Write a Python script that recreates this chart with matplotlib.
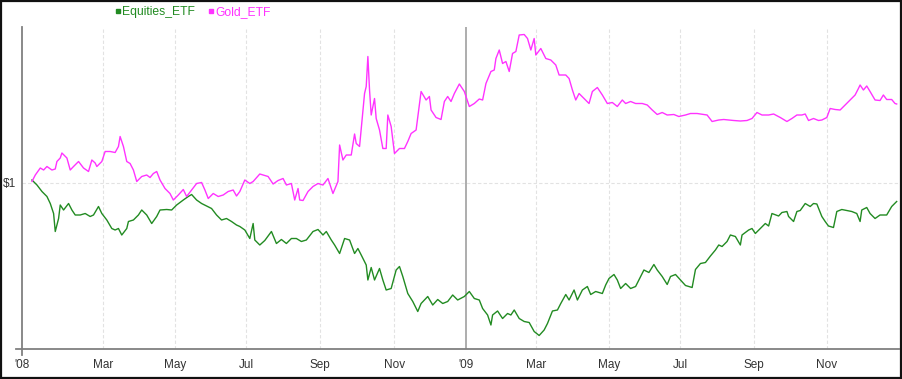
import matplotlib
matplotlib.use('Agg')
import matplotlib.pyplot as plt
import numpy as np
from matplotlib.lines import Line2D

plt.rcParams['font.family'] = ['Liberation Sans', 'DejaVu Sans']

# trading sessions since 2008-01-02 and value of $1 invested
eq_day = [0, 3, 6, 9, 11, 13, 14, 16, 17, 19, 22, 24, 26, 29, 32, 35, 37, 40, 42, 45,
          48, 50, 52, 54, 57, 58, 61, 64, 66, 69, 72, 75, 77, 81, 84, 87, 91, 94, 96, 99,
          102, 105, 108, 111, 114, 117, 120, 123, 125, 128, 131, 133, 134, 137, 140, 144,
          147, 150, 153, 156, 159, 162, 165, 169, 172, 175, 177, 180, 182, 185, 188, 191,
          194, 196, 198, 201, 202, 204, 206, 209, 211, 213, 216, 219, 221, 223, 226, 229,
          232, 234, 238, 241, 244, 247, 250, 253, 256, 260, 263, 266, 269, 271, 274, 276,
          277, 280, 283, 286, 288, 290, 293, 296, 299, 302, 305, 308, 310, 313, 316, 318,
          321, 323, 326, 328, 331, 334, 336, 339, 343, 345, 347, 350, 352, 354, 357, 360,
          363, 366, 368, 371, 374, 376, 379, 382, 384, 387, 390, 393, 397, 399, 402, 405,
          408, 411, 413, 415, 418, 420, 423, 426, 427, 431, 433, 435, 438, 441, 443, 445,
          449, 451, 454, 455, 458, 460, 462, 465, 468, 470, 472, 475, 477, 479, 482, 484,
          487, 490, 493, 496, 498, 499, 502, 504, 507, 510, 514, 517, 520]
eq_val = [1.006, 0.996, 0.983, 0.973, 0.959, 0.939, 0.903, 0.929, 0.956, 0.946, 0.959,
          0.946, 0.936, 0.936, 0.939, 0.933, 0.936, 0.953, 0.939, 0.926, 0.909, 0.906,
          0.909, 0.896, 0.909, 0.923, 0.926, 0.936, 0.946, 0.936, 0.919, 0.933, 0.946,
          0.947, 0.946, 0.956, 0.966, 0.973, 0.977, 0.966, 0.959, 0.954, 0.949, 0.936,
          0.926, 0.929, 0.923, 0.916, 0.913, 0.906, 0.889, 0.919, 0.886, 0.876, 0.885,
          0.903, 0.879, 0.887, 0.879, 0.889, 0.889, 0.883, 0.886, 0.903, 0.907, 0.896,
          0.903, 0.886, 0.876, 0.859, 0.889, 0.886, 0.859, 0.869, 0.856, 0.836, 0.806,
          0.831, 0.806, 0.829, 0.806, 0.786, 0.789, 0.826, 0.833, 0.813, 0.779, 0.763,
          0.743, 0.759, 0.773, 0.756, 0.767, 0.759, 0.763, 0.776, 0.766, 0.773, 0.783,
          0.769, 0.766, 0.749, 0.736, 0.716, 0.736, 0.744, 0.729, 0.739, 0.736, 0.746,
          0.729, 0.723, 0.721, 0.703, 0.695, 0.706, 0.719, 0.744, 0.746, 0.759, 0.777,
          0.766, 0.786, 0.766, 0.786, 0.793, 0.777, 0.783, 0.779, 0.796, 0.809, 0.817,
          0.806, 0.789, 0.799, 0.789, 0.793, 0.813, 0.826, 0.821, 0.837, 0.826, 0.813,
          0.797, 0.813, 0.817, 0.806, 0.795, 0.791, 0.827, 0.839, 0.841, 0.854, 0.866,
          0.876, 0.873, 0.883, 0.896, 0.893, 0.876, 0.896, 0.906, 0.909, 0.899, 0.909,
          0.919, 0.914, 0.939, 0.934, 0.941, 0.943, 0.933, 0.923, 0.943, 0.945, 0.959,
          0.953, 0.959, 0.958, 0.933, 0.923, 0.914, 0.911, 0.943, 0.947, 0.945, 0.943,
          0.939, 0.923, 0.946, 0.951, 0.939, 0.929, 0.936, 0.936, 0.953, 0.963]

gold_day = [0, 2, 5, 7, 9, 12, 14, 15, 17, 18, 21, 23, 25, 28, 31, 34, 36, 38, 39, 42,
            44, 47, 50, 52, 53, 55, 57, 59, 61, 63, 66, 69, 71, 73, 75, 77, 80, 83, 85, 88,
            91, 93, 96, 99, 102, 104, 106, 109, 112, 115, 118, 121, 123, 125, 128, 131, 133,
            137, 142, 145, 148, 151, 153, 156, 158, 160, 161, 163, 166, 169, 172, 175, 178,
            181, 184, 185, 187, 189, 192, 194, 195, 197, 200, 201, 202, 203, 204, 206, 207,
            209, 211, 213, 214, 216, 218, 221, 224, 226, 228, 231, 234, 237, 239, 240, 243,
            246, 248, 250, 252, 254, 257, 260, 263, 266, 269, 271, 273, 276, 278, 279, 281,
            283, 285, 287, 289, 291, 293, 296, 298, 300, 302, 303, 306, 309, 312, 315, 317,
            321, 323, 325, 327, 329, 332, 335, 337, 340, 343, 346, 349, 352, 355, 357, 360,
            363, 367, 370, 373, 376, 379, 382, 386, 389, 393, 396, 400, 406, 409, 413, 416,
            419, 422, 426, 430, 433, 436, 439, 443, 446, 450, 454, 457, 460, 463, 465, 467,
            470, 473, 475, 478, 480, 483, 486, 489, 492, 495, 497, 498, 500, 502, 504, 507,
            510, 512, 514, 517, 519, 520]
gold_val = [1.003, 1.016, 1.030, 1.026, 1.033, 1.026, 1.028, 1.043, 1.050, 1.060, 1.050,
            1.026, 1.033, 1.043, 1.030, 1.023, 1.046, 1.040, 1.033, 1.043, 1.063, 1.063,
            1.061, 1.073, 1.093, 1.073, 1.043, 1.039, 1.026, 1.003, 1.013, 1.016, 1.011,
            1.019, 1.023, 1.006, 0.989, 0.979, 0.966, 0.976, 0.987, 0.973, 0.986, 0.999,
            1.001, 0.986, 0.969, 0.979, 0.973, 0.976, 0.983, 0.986, 0.974, 0.983, 1.006,
            0.999, 1.003, 1.018, 1.013, 0.998, 1.005, 1.009, 0.996, 0.999, 0.966, 0.989,
            0.966, 0.965, 0.983, 0.993, 0.999, 0.996, 1.009, 0.979, 1.003, 1.076, 1.046,
            1.056, 1.056, 1.098, 1.079, 1.073, 1.179, 1.193, 1.253, 1.186, 1.136, 1.169,
            1.129, 1.106, 1.069, 1.069, 1.136, 1.113, 1.059, 1.069, 1.069, 1.083, 1.099,
            1.106, 1.183, 1.166, 1.173, 1.146, 1.131, 1.127, 1.163, 1.173, 1.163, 1.179,
            1.198, 1.183, 1.153, 1.159, 1.168, 1.166, 1.199, 1.223, 1.226, 1.249, 1.266,
            1.239, 1.243, 1.223, 1.259, 1.263, 1.296, 1.297, 1.289, 1.266, 1.289, 1.256,
            1.269, 1.249, 1.246, 1.236, 1.216, 1.216, 1.209, 1.186, 1.166, 1.179, 1.169,
            1.159, 1.183, 1.191, 1.176, 1.159, 1.161, 1.153, 1.166, 1.159, 1.163, 1.159,
            1.159, 1.156, 1.146, 1.137, 1.141, 1.136, 1.137, 1.133, 1.136, 1.139, 1.139,
            1.136, 1.123, 1.126, 1.127, 1.126, 1.125, 1.124, 1.125, 1.129, 1.141, 1.136,
            1.136, 1.138, 1.131, 1.123, 1.129, 1.136, 1.136, 1.138, 1.125, 1.129, 1.125,
            1.126, 1.131, 1.149, 1.147, 1.146, 1.156, 1.166, 1.176, 1.189, 1.196, 1.186,
            1.194, 1.183, 1.166, 1.165, 1.176, 1.167, 1.167, 1.159, 1.158]

month_starts = ['2008-03-01', '2008-05-01', '2008-07-01', '2008-09-01', '2008-11-01',
                '2009-01-01', '2009-03-01', '2009-05-01', '2009-07-01', '2009-09-01',
                '2009-11-01']
month_labels = ['Mar', 'May', 'Jul', 'Sep', 'Nov', "'09", 'Mar', 'May', 'Jul', 'Sep', 'Nov']

GREEN = '#228b22'
MAGENTA = '#ff33ff'
TXT = '#333333'


def main():
    fig = plt.figure(figsize=(9.03, 3.79), dpi=100)
    ax = fig.add_axes([22 / 903, 1 - 349 / 379, 877 / 903, 322 / 379])

    xs = np.busday_count('2008-01-02', month_starts)
    x0, x1 = -6, 521.4

    for x, lab in zip(xs, month_labels):
        if lab == "'09":
            ax.axvline(x, color='#a0a0a0', lw=1.2, zorder=1)
        else:
            ax.axvline(x, color='#e2e2e2', lw=0.8, ls=(0, (3, 2)), zorder=0)
    ax.axhline(1.0, color='#e2e2e2', lw=0.8, ls=(0, (3, 2)), zorder=0)

    ax.plot(eq_day, eq_val, color=GREEN, lw=1.0, zorder=3)
    ax.plot(gold_day, gold_val, color=MAGENTA, lw=1.0, zorder=3)

    ax.set_xlim(x0, x1)
    ax.set_ylim(0.668, 1.312)
    ax.set_xticks([x0] + list(xs))
    ax.set_xticklabels(["'08"] + month_labels)
    ax.set_yticks([1.0])
    ax.set_yticklabels(['\\$1'])
    ax.tick_params(axis='both', length=0, labelsize=8.5, labelcolor=TXT)
    ax.tick_params(axis='x', pad=7)
    ax.tick_params(axis='y', pad=4)

    for s in ax.spines.values():
        s.set_visible(False)
    # axis lines, a little past the corner as in the original
    ax.add_line(Line2D([-0.007, 1.0], [0, 0], transform=ax.transAxes,
                       color='#808080', lw=1.3, clip_on=False))
    ax.add_line(Line2D([0, 0], [-0.02, 1.0], transform=ax.transAxes,
                       color='#808080', lw=1.3, clip_on=False))

    handles = [Line2D([], [], marker='s', ls='none', color=GREEN, markersize=3.5),
               Line2D([], [], marker='s', ls='none', color=MAGENTA, markersize=3.5)]
    fig.legend(handles, ['Equities_ETF', 'Gold_ETF'], loc='center',
               bbox_to_anchor=(193 / 903, 1 - 12 / 379), ncol=2, frameon=False,
               fontsize=8.7, labelcolor=[GREEN, MAGENTA], handlelength=0.5,
               handletextpad=0.1, columnspacing=1.1, borderpad=0)

    # dark frame round the picture
    fig.add_artist(plt.Rectangle((0.001, 0.002), 0.997, 0.996, transform=fig.transFigure,
                                 fill=False, edgecolor='#111111', lw=1.6))

    fig.savefig('out.png', dpi=100)


if __name__ == '__main__':
    main()
